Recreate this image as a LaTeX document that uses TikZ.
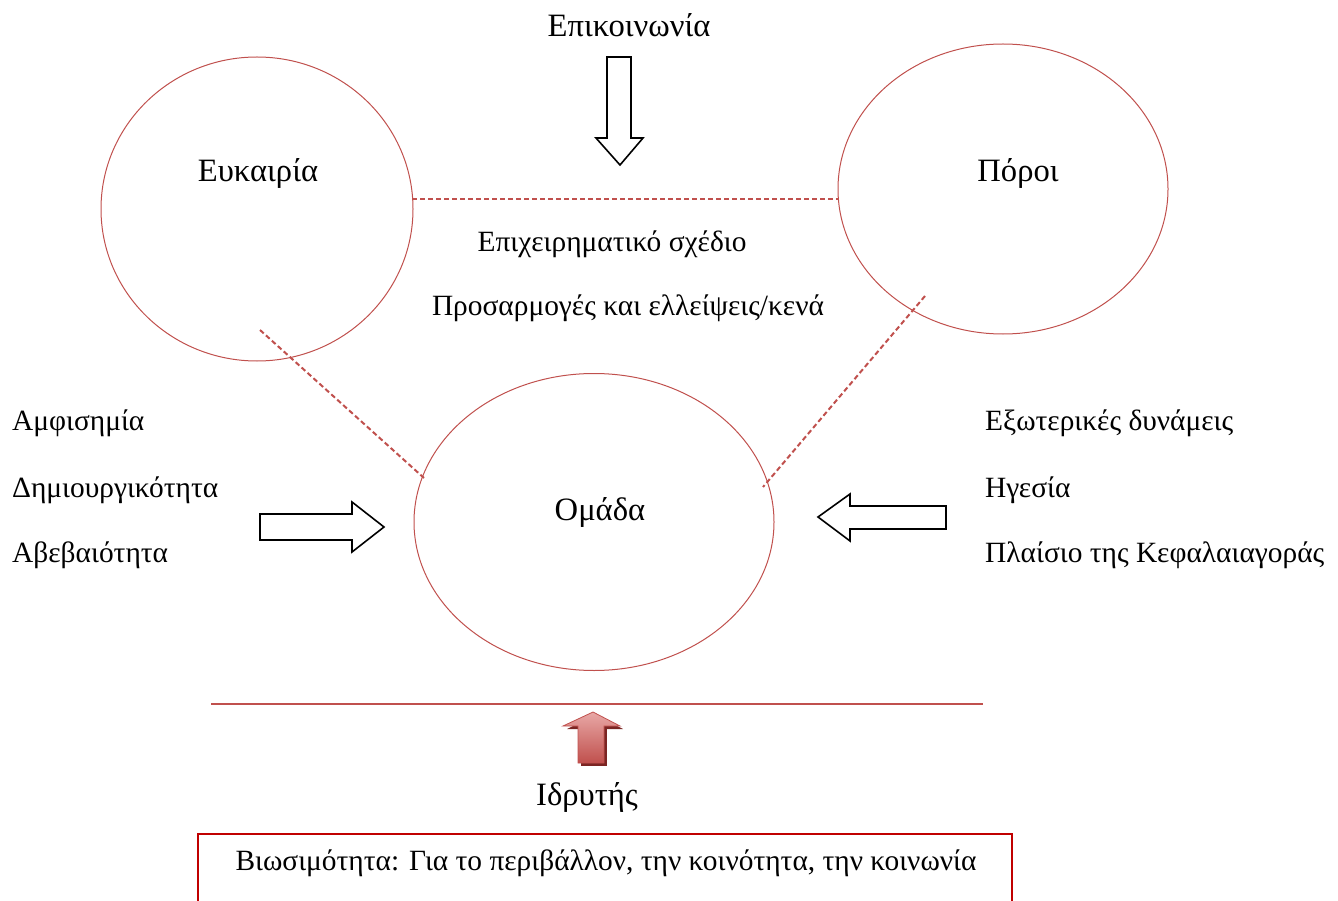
\documentclass[tikz,border=0pt]{standalone}
\usepackage{fontspec}
\setmainfont{Liberation Serif}
\usetikzlibrary{shapes.geometric}
\definecolor{acc}{HTML}{C0504D}
\definecolor{boxred}{HTML}{C00000}
\definecolor{darkred}{HTML}{7B2523}
\definecolor{lightred}{HTML}{E8A8A6}
\begin{document}
\begin{tikzpicture}[x=1pt,y=-1pt,
  lbl/.style={inner sep=0pt,font=\fontsize{29.4}{34}\selectfont},
  big/.style={inner sep=0pt,font=\fontsize{32.6}{38}\selectfont},
  oval/.style={draw=acc,line width=1pt,ellipse,inner sep=0pt},
  dline/.style={draw=acc,line width=2pt,dash pattern=on 5pt off 3pt},
  hollow/.style={draw=black,line width=1.6pt,fill=white,line join=miter}]
\useasboundingbox (0,0) rectangle (1338,901);
\clip (0,0) rectangle (1338,901);
% ellipses
\node[oval,minimum width=312pt,minimum height=304pt] (e1) at (257,209) {};
\node[oval,minimum width=330pt,minimum height=290pt] (e2) at (1003,189) {};
\node[oval,minimum width=360pt,minimum height=297pt] (e3) at (594,522) {};
% dashed connectors
\coordinate (d1a) at (412,199);
\coordinate (d1b) at (838,199);
\coordinate (d2a) at (260,330);
\coordinate (d2b) at (424,478);
\coordinate (d3a) at (925,296);
\coordinate (d3b) at (763,487);
\draw[dline] (d1a) -- (d1b);
\draw[dline] (d2a) -- (d2b);
\draw[dline] (d3a) -- (d3b);
% texts
\node[big] (t1) at (629,25) {Επικοινωνία};
\node[big] (t2) at (258,173) {Ευκαιρία};
\node[big] (t3) at (1018,173) {Πόροι};
\node[lbl] (t4) at (612,244) {Επιχειρηματικό σχέδιο};
\node[lbl] (t5) at (628,308) {Προσαρμογές και ελλείψεις/κενά};
\node[lbl,anchor=west] (t6) at (12,423) {Αμφισημία};
\node[lbl,anchor=west] (t7) at (12,490) {Δημιουργικότητα};
\node[lbl,anchor=west] (t8) at (12,555) {Αβεβαιότητα};
\node[big] (t9) at (600,512) {Ομάδα};
\node[lbl,anchor=west] (t10) at (985,423) {Εξωτερικές δυνάμεις};
\node[lbl,anchor=west] (t11) at (985,490) {Ηγεσία};
\node[lbl,anchor=west] (t12) at (985,555) {Πλαίσιο της Κεφαλαιαγοράς};
\node[big] (t13) at (587,797) {Ιδρυτής};
% block arrows
\draw[hollow] (607,57) -- (631,57) -- (631,138) -- (643,138) -- (620,165) -- (596,138) -- (607,138) -- cycle;
\draw[hollow] (260,514) -- (352,514) -- (352,502) -- (384,527) -- (352,552) -- (352,540) -- (260,540) -- cycle;
\draw[hollow] (946,506) -- (850,506) -- (850,494) -- (818,517) -- (850,541) -- (850,529) -- (946,529) -- cycle;
% red line
\coordinate (rl1) at (211,704);
\coordinate (rl2) at (983,704);
\draw[acc,line width=2pt] (rl1) -- (rl2);
% red arrow with shadow
\fill[darkred] (581,729) -- (607,729) -- (607,766) -- (581,766) -- cycle;
\fill[darkred] (567,729) -- (623,729) -- (596,715) -- cycle;
\shade[top color=lightred,bottom color=acc,draw=acc,line width=0.8pt]
  (578,726) -- (563,726) -- (593,712) -- (620,726) -- (604,726) -- (604,763) -- (578,763) -- cycle;
% bottom box
\draw[boxred,line width=1.5pt] (198,910) -- (198,834) -- (1012,834) -- (1012,910);
\node[lbl] (t14) at (606,863) {Βιωσιμότητα: Για το περιβάλλον, την κοινότητα, την κοινωνία};
\end{tikzpicture}
\end{document}
